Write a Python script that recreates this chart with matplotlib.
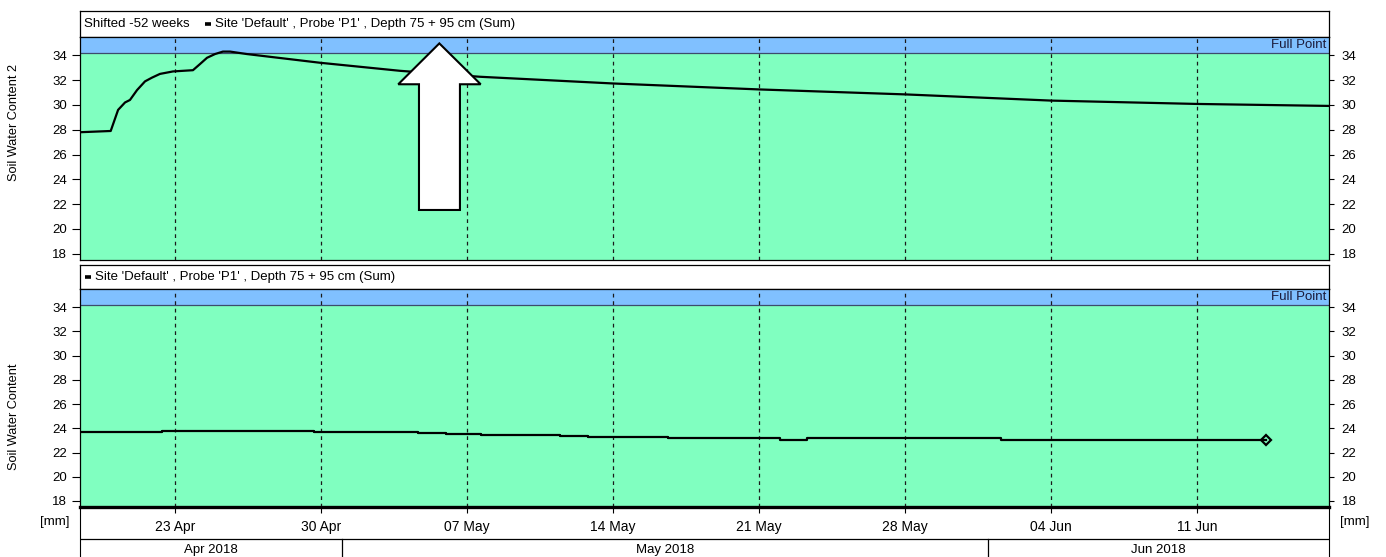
import matplotlib.pyplot as plt
import matplotlib.dates as mdates
import matplotlib.transforms as mtransforms
from matplotlib.patches import Polygon
import pandas as pd

plt.rcParams['font.family'] = ['Liberation Sans', 'DejaVu Sans']
plt.rcParams['font.size'] = 9.5

#====================================================================
''' Data read off the chart '''
x_start = '2018-04-18 10:40'
x_end = '2018-06-17 08:00'

top_times = ['2018-04-18 10:40', '2018-04-19 22:00', '2018-04-20 06:30', '2018-04-20 14:30',
             '2018-04-20 20:10', '2018-04-21 04:20', '2018-04-21 13:30', '2018-04-21 21:30',
             '2018-04-22 06:40', '2018-04-22 21:40', '2018-04-23 20:40', '2018-04-24 04:50',
             '2018-04-24 12:50', '2018-04-24 22:00', '2018-04-25 07:10', '2018-04-25 15:20',
             '2018-04-26 10:50', '2018-04-29 22:50', '2018-05-03 19:00', '2018-05-07 15:00',
             '2018-05-14 00:00', '2018-05-21 00:00', '2018-05-28 00:00', '2018-06-04 00:00',
             '2018-06-11 00:00', '2018-06-17 08:00']
top_values = [27.8, 27.9, 29.6, 30.2,
              30.4, 31.2, 31.9, 32.2,
              32.5, 32.7, 32.8, 33.3,
              33.8, 34.1, 34.3, 34.3,
              34.1, 33.4, 32.75, 32.27,
              31.73, 31.25, 30.85, 30.35,
              30.08, 29.92]

bottom_times = ['2018-04-18 10:40', '2018-04-22 09:00', '2018-04-29 16:00', '2018-05-04 15:40',
                '2018-05-05 23:50', '2018-05-07 16:00', '2018-05-11 11:00', '2018-05-12 19:10',
                '2018-05-16 15:20', '2018-05-22 00:00', '2018-05-23 07:00', '2018-06-01 14:30',
                '2018-06-05 18:30', '2018-06-07 20:00', '2018-06-11 00:00', '2018-06-11 12:40',
                '2018-06-14 07:30']
bottom_values = [23.72, 23.80, 23.72, 23.64,
                 23.53, 23.47, 23.36, 23.28,
                 23.17, 23.07, 23.17, 23.07,
                 23.0, 23.07, 23.0, 23.07,
                 23.07]

full_point = 34.2
y_min, y_max = 17.5, 35.5
y_ticks = list(range(18, 35, 2))
week_ticks = pd.date_range('2018-04-23', '2018-06-11', freq='7D')
month_starts = ['2018-04-01', '2018-05-01', '2018-06-01', '2018-07-01']
month_labels = ['Apr 2018', 'May 2018', 'Jun 2018']

shift_label = 'Shifted -52 weeks'
series_label = "Site 'Default' , Probe 'P1' , Depth 75 + 95 cm (Sum)"
#====================================================================
green = '#80FFC0'
blue = '#80C0FF'
W, H = 1386, 557


def box(x0, y0, x1, y1):
    return [x0 / W, 1 - y1 / H, (x1 - x0) / W, (y1 - y0) / H]


xlim = (pd.Timestamp(x_start), pd.Timestamp(x_end))

fig = plt.figure(figsize=(W / 100, H / 100), dpi=100)
ax1_leg = fig.add_axes(box(80, 11, 1329, 36.7))
ax1 = fig.add_axes(box(80, 36.7, 1329, 260))
ax2_leg = fig.add_axes(box(80, 264.5, 1329, 289))
ax2 = fig.add_axes(box(80, 289, 1329, 507))
axm = fig.add_axes(box(80, 507, 1329, 562))


def draw_panel(ax, times, values, steps=False, end_marker=False):
    t = pd.to_datetime(times)
    ax.set_facecolor(green)
    ax.axhspan(full_point, y_max, color=blue, zorder=0.5, lw=0)
    ax.axhline(full_point, color='#3c4c6c', lw=0.9, zorder=0.6)
    ax.set_xlim(xlim)
    ax.set_ylim(y_min, y_max)
    ax.set_xticks(week_ticks)
    ax.set_yticks(y_ticks)
    ax.grid(axis='x', color='#1a1a1a', lw=0.9, ls=(0, (3, 3)))
    ax.plot(t, values, color='black', lw=1.6, zorder=3,
            drawstyle='steps-post' if steps else 'default')
    if end_marker:
        ax.plot(t[-1:], values[-1:], marker='D', ms=5.5, mfc='none', mec='black',
                mew=1.6, ls='none', zorder=4)
    ax.tick_params(axis='y', left=True, right=True, labelleft=True, labelright=True,
                   direction='out', length=5.8, pad=3.4, width=0.8, labelsize=9.5)
    # right-hand ticks are shorter in the original
    for tk in ax.yaxis.get_major_ticks():
        tk.tick2line.set_markersize(3.8)
    trans = mtransforms.blended_transform_factory(ax.transAxes, ax.transData)
    ax.text(0.998, (full_point + y_max) / 2, 'Full Point', transform=trans,
            ha='right', va='center', color='#1a1a3a')
    for s in ax.spines.values():
        s.set_linewidth(0.9)


draw_panel(ax1, top_times, top_values)
ax1.tick_params(axis='x', bottom=False, labelbottom=False)

draw_panel(ax2, bottom_times, bottom_values, steps=True, end_marker=True)
ax2.xaxis.set_major_formatter(mdates.DateFormatter('%d %b'))
ax2.tick_params(axis='x', direction='out', length=4, pad=5.5, width=0.8, labelsize=10)
ax2.spines['bottom'].set_linewidth(2.4)

# arrow pointing at the shifted series
arrow = Polygon([(0.2877, 0.970), (0.3208, 0.787), (0.3042, 0.787), (0.3042, 0.224),
                 (0.2714, 0.224), (0.2714, 0.787), (0.2548, 0.787)],
                closed=True, transform=ax1.transAxes, facecolor='white',
                edgecolor='black', lw=1.5, zorder=5)
ax1.add_patch(arrow)

# legend strips
for lax in (ax1_leg, ax2_leg):
    lax.set_xlim(0, 1)
    lax.set_ylim(0, 1)
    lax.set_xticks([])
    lax.set_yticks([])
    for s in lax.spines.values():
        s.set_linewidth(0.9)

ax1_leg.text(0.0032, 0.5, shift_label, va='center', ha='left')
ax1_leg.plot([0.1001, 0.1049], [0.5, 0.5], color='black', lw=2.6, solid_capstyle='butt')
ax1_leg.text(0.108, 0.5, series_label, va='center', ha='left')

ax2_leg.plot([0.004, 0.0088], [0.5, 0.5], color='black', lw=2.6, solid_capstyle='butt')
ax2_leg.text(0.012, 0.5, series_label, va='center', ha='left')

# month row
axm.patch.set_visible(False)
axm.set_xlim(xlim)
axm.set_ylim(0, 1)
axm.set_xticks([])
axm.set_yticks([])
axm.spines['top'].set_visible(False)
axm.spines['bottom'].set_visible(False)
row_top = (562 - 538.7) / 55
axm.axhline(row_top, color='black', lw=0.9)
for i, label in enumerate(month_labels):
    a = max(pd.Timestamp(month_starts[i]), xlim[0])
    b = min(pd.Timestamp(month_starts[i + 1]), xlim[1])
    if pd.Timestamp(month_starts[i]) > xlim[0]:
        axm.axvline(a, ymin=0, ymax=row_top, color='black', lw=0.9)
    axm.text(a + (b - a) / 2, (562 - 550) / 55, label, ha='center', va='center')

fig.text(14 / W, 1 - 122 / H, 'Soil Water Content 2', rotation=90, ha='center', va='center',
         fontsize=9.2)
fig.text(14 / W, 1 - 417 / H, 'Soil Water Content', rotation=90, ha='center', va='center',
         fontsize=9.2)
fig.text(55 / W, 1 - 522 / H, '[mm]', ha='center', va='center')
fig.text(1355 / W, 1 - 522 / H, '[mm]', ha='center', va='center')

fig.savefig('out.png', dpi=100)
